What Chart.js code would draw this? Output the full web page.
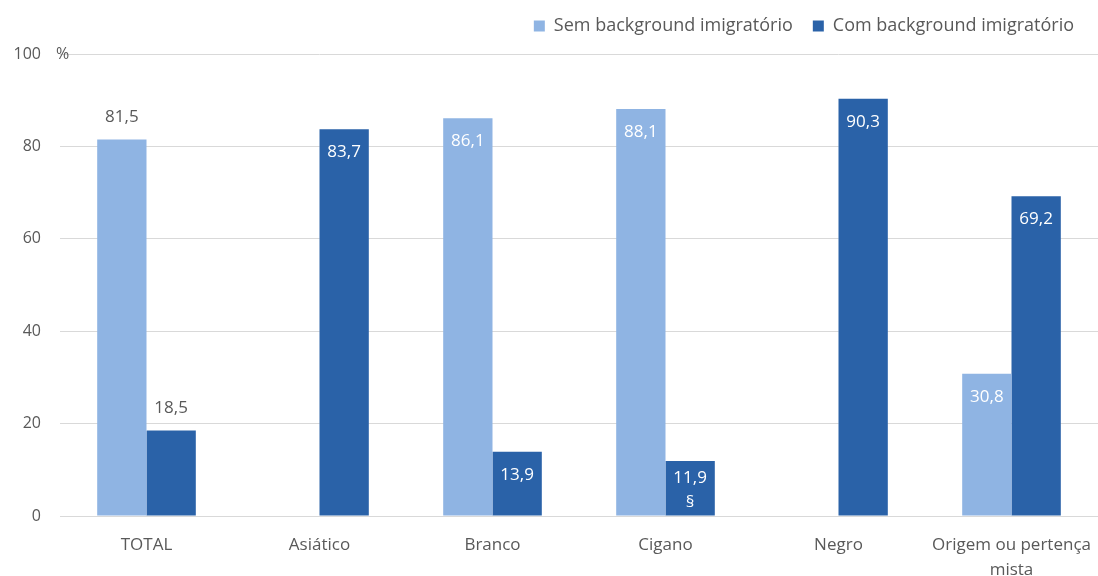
<!DOCTYPE html>
<html>
<head>
    <meta charset="utf-8">
    <title>Background imigratório</title>
    <script src="https://cdn.jsdelivr.net/npm/chart.js"></script>
    <style>
        html, body {
            margin: 0;
            padding: 0;
            background: #fff;
        }
        #wrap {
            width: 1098px;
            height: 576px;
        }
    </style>
</head>
<body>
    <div id="wrap"><canvas id="barChart"></canvas></div>

    <script>
    const categories = ['TOTAL', 'Asiático', 'Branco', 'Cigano', 'Negro', ['Origem ou pertença', 'mista']];
    const semBackground = [81.5, null, 86.1, 88.1, null, 30.8];
    const comBackground = [18.5, 83.7, 13.9, 11.9, 90.3, 69.2];
    const yTicks = [0, 20, 40, 60, 80, 100];
    // labels drawn above the bar instead of inside
    const labelsOutside = [[true, false, false, false, false, false], [true, false, false, false, false, false]];
    const labelNotes = [['', '', '', '', '', ''], ['', '', '', '§', '', '']];

    const textColor = '#595959';
    const fontFamily = "'Open Sans', 'Liberation Sans', sans-serif";

    const valueLabels = {
        id: 'valueLabels',
        afterDatasetsDraw(chart) {
            const ctx = chart.ctx;
            ctx.save();
            ctx.font = '17px ' + fontFamily;
            ctx.textAlign = 'center';
            ctx.textBaseline = 'middle';
            chart.data.datasets.forEach((ds, di) => {
                const meta = chart.getDatasetMeta(di);
                meta.data.forEach((bar, i) => {
                    const v = ds.data[i];
                    if (v === null) return;
                    const txt = v.toFixed(1).replace('.', ',');
                    if (labelsOutside[di][i]) {
                        ctx.fillStyle = textColor;
                        ctx.fillText(txt, bar.x, bar.y - 22);
                    } else if (labelNotes[di][i]) {
                        ctx.fillStyle = '#ffffff';
                        ctx.fillText(txt, bar.x, bar.y + 17);
                        ctx.fillText(labelNotes[di][i], bar.x, bar.y + 41);
                    } else {
                        ctx.fillStyle = '#ffffff';
                        ctx.fillText(txt, bar.x, bar.y + 23);
                    }
                });
            });
            // percent sign next to the top tick
            const yScale = chart.scales.y;
            ctx.fillStyle = textColor;
            ctx.textAlign = 'left';
            ctx.font = '16px ' + fontFamily;
            ctx.fillText('%', yScale.right - 4, yScale.getPixelForValue(100));
            ctx.restore();
        }
    };

    // extra room under the legend, and shift it a bit left
    const legendTweak = {
        id: 'legendTweak',
        beforeInit(chart) {
            const legend = chart.legend;
            const fit = legend.fit;
            legend.fit = function () {
                fit.call(legend);
                legend.height += 2;
            };
            const draw = legend.draw;
            legend.draw = function () {
                chart.ctx.save();
                chart.ctx.translate(-8, -7);
                draw.call(legend);
                chart.ctx.restore();
            };
        }
    };

    new Chart(document.getElementById('barChart'), {
        type: 'bar',
        data: {
            labels: categories,
            datasets: [{
                label: 'Sem background imigratório',
                data: semBackground,
                backgroundColor: '#8FB4E3',
                categoryPercentage: 0.57,
                barPercentage: 1.0
            }, {
                label: 'Com background imigratório',
                data: comBackground,
                backgroundColor: '#2A62A8',
                categoryPercentage: 0.57,
                barPercentage: 1.0
            }]
        },
        options: {
            responsive: true,
            maintainAspectRatio: false,
            animation: false,
            layout: {
                padding: { left: 0, right: -4, top: 4, bottom: 0 }
            },
            plugins: {
                tooltip: { enabled: false },
                legend: {
                    position: 'top',
                    align: 'end',
                    labels: {
                        color: textColor,
                        font: { family: fontFamily, size: 18 },
                        boxWidth: 11,
                        boxHeight: 11,
                        padding: 20
                    }
                }
            },
            scales: {
                x: {
                    afterFit(scale) {
                        scale.height = 60;
                        scale.paddingLeft = 0;
                        scale.paddingRight = 0;
                    },
                    grid: { display: false },
                    border: { color: '#d9d9d9' },
                    ticks: {
                        color: textColor,
                        font: { family: fontFamily, size: 17, lineHeight: 1.5 },
                        padding: 8,
                        maxRotation: 0,
                        autoSkip: false
                    }
                },
                y: {
                    min: 0,
                    max: 100,
                    afterBuildTicks(scale) {
                        scale.ticks = yTicks.map(v => ({ value: v }));
                    },
                    afterFit(scale) {
                        scale.width = 60;
                    },
                    grid: { color: '#d9d9d9', drawTicks: false },
                    border: { display: false },
                    ticks: {
                        color: textColor,
                        font: { family: fontFamily, size: 16 },
                        padding: 19
                    }
                }
            }
        },
        plugins: [valueLabels, legendTweak]
    });
    </script>
</body>
</html>
